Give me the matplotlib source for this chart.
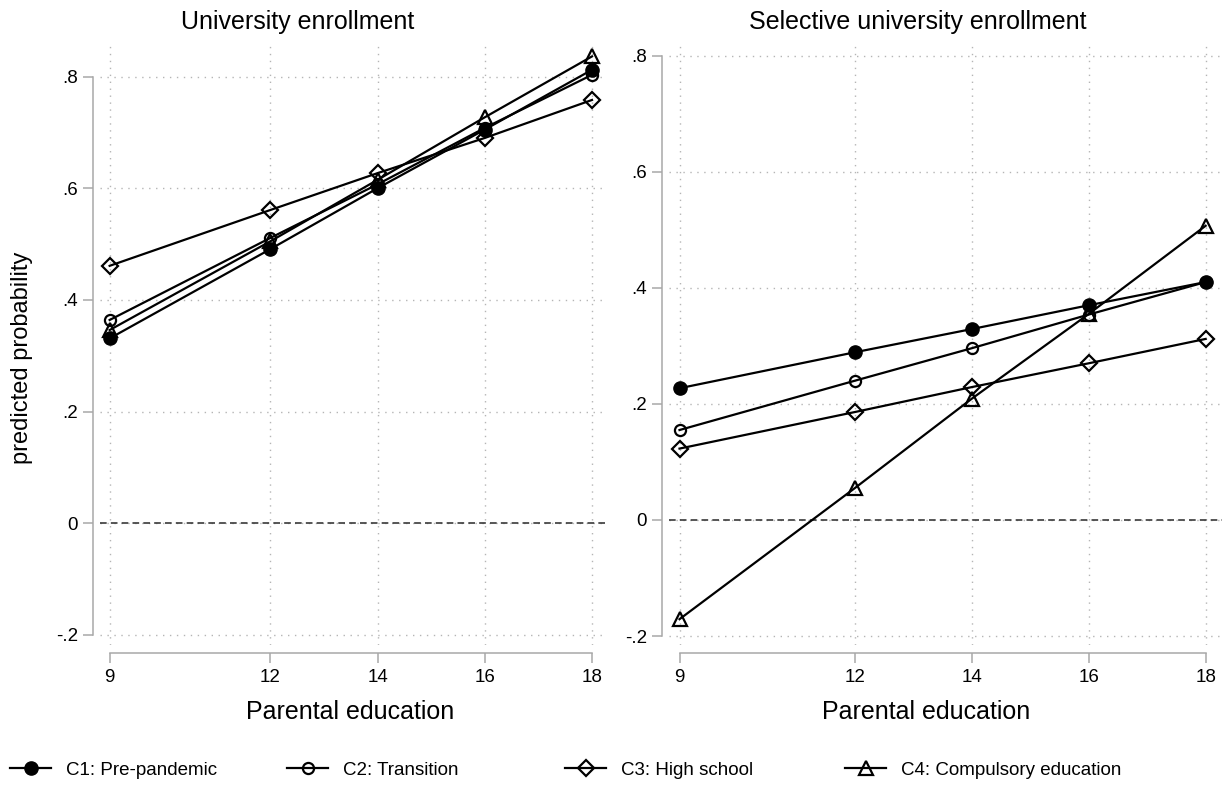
import matplotlib.pyplot as plt
from matplotlib.lines import Line2D

plt.rcParams['font.family'] = ['Liberation Sans', 'DejaVu Sans']

# parental education (years) on the x axis
parent_edu = [9, 12, 14, 16, 18]
cohorts = ["C1: Pre-pandemic", "C2: Transition", "C3: High school", "C4: Compulsory education"]

# predicted probability: university enrollment
uni_c1 = [0.331, 0.491, 0.600, 0.705, 0.812]
uni_c2 = [0.364, 0.511, 0.607, 0.708, 0.803]
uni_c3 = [0.461, 0.561, 0.627, 0.690, 0.758]
uni_c4 = [0.346, 0.505, 0.615, 0.727, 0.836]

# predicted probability: selective university enrollment
sel_c1 = [0.227, 0.289, 0.329, 0.370, 0.410]
sel_c2 = [0.155, 0.240, 0.296, 0.354, 0.410]
sel_c3 = [0.123, 0.186, 0.229, 0.270, 0.312]
sel_c4 = [-0.171, 0.055, 0.209, 0.355, 0.507]

y_ticks = [-0.2, 0, 0.2, 0.4, 0.6, 0.8]
y_ticklabels = ["-.2", "0", ".2", ".4", ".6", ".8"]

W, H = 1227, 795
AXIS_GREY = "#a8a8a8"

styles = [
    dict(marker="o", markersize=9.5, markerfacecolor="black", markeredgecolor="black"),
    dict(marker="o", markersize=8, markerfacecolor="none", markeredgecolor="black", markeredgewidth=1.6),
    dict(marker="D", markersize=8, markerfacecolor="none", markeredgecolor="black", markeredgewidth=1.6),
    dict(marker="^", markersize=10, markerfacecolor="none", markeredgecolor="black", markeredgewidth=1.6),
]


def px_box(left, top, right, bottom):
    return [left / W, 1 - bottom / H, (right - left) / W, (bottom - top) / H]


def draw_panel(ax, series, ylim):
    for vals, st in zip(series, styles):
        ax.plot(parent_edu, vals, color="black", linewidth=1.6, zorder=3, **st)
    ax.axhline(0, color="#3a3a3a", linestyle=(0, (4, 2.5)), linewidth=1.2, zorder=2)
    ax.set_xlim(8.82, 18.28)
    ax.set_ylim(*ylim)
    ax.set_xticks(parent_edu)
    ax.set_yticks(y_ticks)
    ax.set_yticklabels(y_ticklabels)
    ax.grid(True, linestyle=(0, (1, 4)), color="#b5b5b5", linewidth=1.0, zorder=1)
    for s in ["top", "right"]:
        ax.spines[s].set_visible(False)
    ax.spines["left"].set_position(("outward", 5))
    ax.spines["bottom"].set_position(("outward", 5.8))
    ax.spines["left"].set_bounds(-0.2, 0.8)
    ax.spines["bottom"].set_bounds(9, 18)
    for s in ["left", "bottom"]:
        ax.spines[s].set_color(AXIS_GREY)
        ax.spines[s].set_linewidth(1.1)
    ax.tick_params(length=7.2, width=1.1, color=AXIS_GREY, labelsize=13.5)
    ax.tick_params(axis="x", pad=4)
    ax.tick_params(axis="y", pad=3.5)


fig = plt.figure(figsize=(W / 100, H / 100), dpi=100)

ax1 = fig.add_axes(px_box(100, 43, 607, 645))
draw_panel(ax1, [uni_c1, uni_c2, uni_c3, uni_c4], (-0.218, 0.86))

ax2 = fig.add_axes(px_box(669, 43, 1222, 645))
draw_panel(ax2, [sel_c1, sel_c2, sel_c3, sel_c4], (-0.2155, 0.822))

fig.text(298 / W, 1 - 22 / H, "University enrollment", ha="center", va="center", fontsize=18)
fig.text(918 / W, 1 - 22 / H, "Selective university enrollment", ha="center", va="center", fontsize=18)
fig.text(350 / W, 1 - 712 / H, "Parental education", ha="center", va="center", fontsize=18)
fig.text(926 / W, 1 - 712 / H, "Parental education", ha="center", va="center", fontsize=18)
fig.text(22 / W, 1 - 358 / H, "predicted probability", ha="center", va="center",
         rotation=90, fontsize=17)

# one legend entry per slot so the columns are evenly spaced like the original
legend_x = [10, 287, 565, 845]
for name, st, lx in zip(cohorts, styles, legend_x):
    h = Line2D([], [], color="black", linewidth=1.6, **st)
    fig.legend(handles=[h], labels=[name], loc="center left",
               bbox_to_anchor=(lx / W, 1 - 770 / H), frameon=False,
               fontsize=13.5, handlelength=2.2, handletextpad=0.8,
               borderaxespad=0, borderpad=0)

fig.savefig("out.png", dpi=100)
